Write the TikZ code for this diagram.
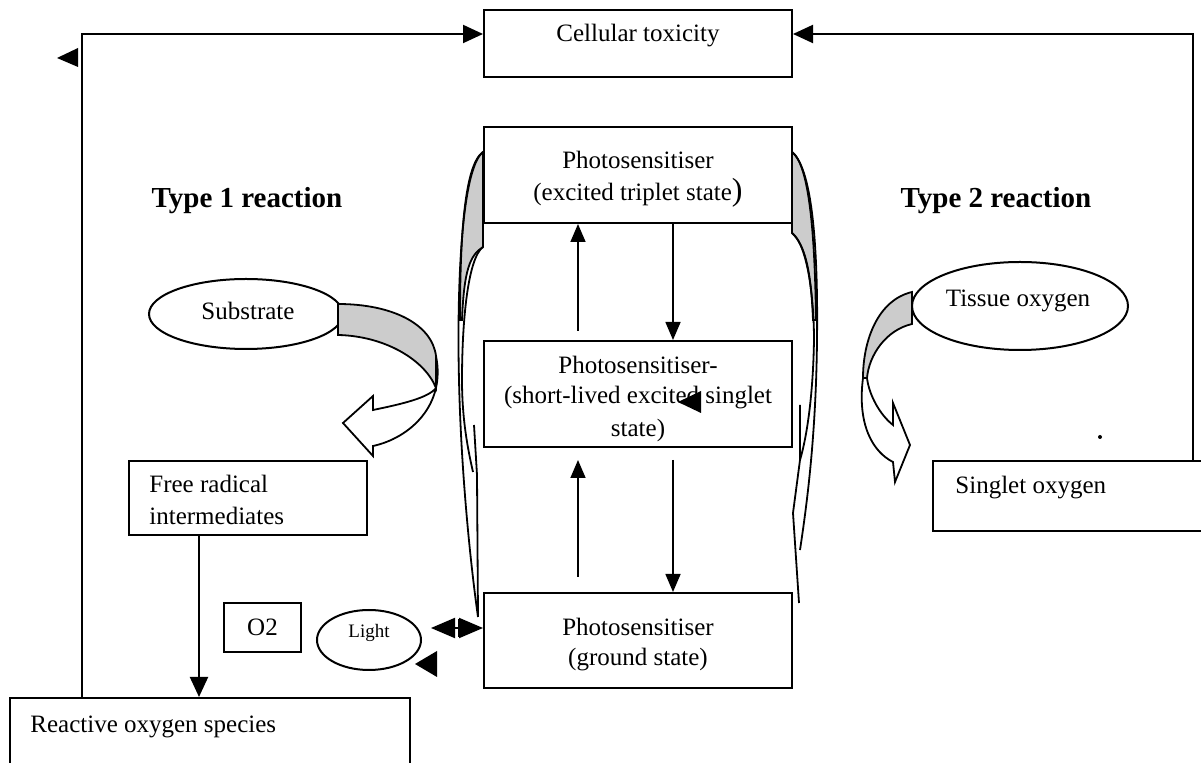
\documentclass[tikz,border=0pt]{standalone}
\usepackage{fontspec}
\setmainfont{Liberation Serif}
\usetikzlibrary{arrows.meta,shapes.geometric}
\begin{document}
\begin{tikzpicture}[x=0.5pt,y=-0.5pt,
  box/.style={draw, line width=1pt, inner sep=0pt, fill=white},
  oval/.style={draw, ellipse, line width=1pt, inner sep=0pt, fill=white},
  txt/.style={inner sep=0pt, font=\fontsize{12.5}{16}\selectfont},
  conn/.style={line width=1pt, -{Triangle[length=10pt,width=9pt]}},
  conns/.style={line width=0.8pt, -{Triangle[length=9pt,width=7.5pt]}},
  band/.style={draw, line width=0.9pt, fill=black!20},
  wband/.style={draw, line width=0.9pt, fill=white},
  thin/.style={draw, line width=0.9pt}]
\useasboundingbox (0,0) rectangle (1201,763);

% brackets around the central boxes
\path[band] (483,152) .. controls (464,165) and (460,240) .. (460,320) -- (462,320) .. controls (464,270) and (470,255) .. (483,247) -- cycle;
\draw[thin] (483,152) .. controls (460,170) and (457,300) .. (459,380) .. controls (461,470) and (470,560) .. (478,617);
\draw[thin] (483,247) .. controls (468,258) and (462,320) .. (462,380) .. controls (462,420) and (468,450) .. (473,472);
\draw[thin] (474,425) -- (477,475) -- (478,617);

\path[band] (792,152) .. controls (810,165) and (815,240) .. (816,320) -- (813,320) .. controls (811,270) and (805,245) .. (792,233) -- cycle;
\draw[thin] (792,152) .. controls (814,170) and (818,260) .. (817,340) .. controls (816,440) and (806,510) .. (800,550);
\draw[thin] (792,233) .. controls (808,245) and (814,300) .. (814,340) .. controls (813,400) and (806,440) .. (800,460);
\draw[thin] (800,405) -- (800,460) -- (793,513) -- (799,603);

% boxes
\node[box, minimum width=154pt, minimum height=33.5pt] (tox) at (638,43.5) {};
\node[txt] at (638,36) {Cellular toxicity};
\node[box, minimum width=154pt, minimum height=48pt] (trip) at (638,175) {};
\node[txt] at (638,160) {Photosensitiser};
\node[txt] at (638,193) {(excited triplet state\fontsize{16}{16}\selectfont)};
\node[box, minimum width=154pt, minimum height=53pt] (mid) at (638,394) {};
\node[txt] at (638,365) {Photosensitiser-};
\node[txt] at (638,398) {(short-lived excited singlet};
\node[txt] at (638,430) {state)};
\node[box, minimum width=154pt, minimum height=47.5pt] (gnd) at (638,640.5) {};
\node[txt] at (638,627) {Photosensitiser};
\node[txt] at (638,660) {(ground state)};

\node[box, minimum width=119pt, minimum height=37pt] (free) at (248,498) {};
\node[txt, align=left, anchor=west] at (149,500) {Free radical\\intermediates};
\node[box, minimum width=38.5pt, minimum height=24.5pt] (o2) at (262.5,627.5) {};
\node[txt] at (262.5,627) {O2};
\node[box, minimum width=200pt, minimum height=46pt] (ros) at (210,744) {};
\node[txt, anchor=west] at (30,727) {Reactive oxygen species};
\node[box, minimum width=148.5pt, minimum height=35pt] (sing) at (1081.5,496) {};
\node[txt, anchor=west] at (955,488) {Singlet oxygen};

% ellipses
\node[oval, minimum width=97pt, minimum height=35pt] (sub) at (246,314) {};
\node[txt] at (248,311) {Substrate};
\node[oval, minimum width=108pt, minimum height=44pt] (tis) at (1020,306) {};
\node[txt] at (1018,301) {Tissue oxygen};
\node[oval, minimum width=52pt, minimum height=30pt] (light) at (369,640) {};
\node[inner sep=0pt, font=\fontsize{9.5}{11}\selectfont] at (369,633) {Light};

% curved block arrows
\path[wband] (436,356) .. controls (446,405) and (410,438) .. (373,446) -- (373,456) -- (343,423) -- (373,396) -- (373,410) .. controls (402,404) and (428,398) .. (436,388) -- cycle;
\path[band] (338,304) .. controls (392,304) and (432,324) .. (436,356) -- (436,388) .. controls (425,360) and (385,336) .. (338,335) -- cycle;

\path[wband] (863,378) .. controls (857,425) and (873,452) .. (893,462) -- (895,482) -- (910,445) -- (893,403) -- (893,425) .. controls (880,415) and (869,395) .. (867,378) -- cycle;
\path[band] (912,292) .. controls (878,300) and (863,340) .. (863,378) -- (867,378) .. controls (869,355) and (886,330) .. (912,324) -- cycle;

% labels
\node[inner sep=0pt, font=\bfseries\fontsize{14.5}{16}\selectfont] at (247,201) {Type 1 reaction};
\node[inner sep=0pt, font=\bfseries\fontsize{14.5}{16}\selectfont] at (996,201) {Type 2 reaction};

% connectors
\coordinate (lc) at (82,34);
\coordinate (rc) at (1193,34);
\draw[conn] (ros.north -| lc) -- (lc) -- (tox.west |- lc);
\draw[conn] (sing.north -| rc) -- (rc) -- (tox.east |- rc);

\draw[conns] ([xshift=-30pt,yshift=4.5pt]mid.north) -- ([xshift=-30pt]trip.south);
\draw[conns] ([xshift=17.5pt]trip.south) -- ([xshift=17.5pt]mid.north);
\draw[conns] ([xshift=-30pt,yshift=7.5pt]gnd.north) -- ([xshift=-30pt,yshift=-6pt]mid.south);
\draw[conns] ([xshift=17.5pt,yshift=-6pt]mid.south) -- ([xshift=17.5pt]gnd.north);

\draw[conn] ([xshift=-24.5pt]free.south) -- ([xshift=-24.5pt]free.south |- ros.north);

\coordinate (la) at (431,628);
\draw[line width=1pt, {Triangle[length=12pt,width=10pt]}-{Triangle[length=12pt,width=10pt]}] (la) -- (gnd.west |- la);
\draw[line width=0.8pt] (459,619) -- (459,637);

% stray arrowheads and dot
\fill (57,58) -- (78,48) -- (78,67) -- cycle;
\fill (678,402) -- (701,391) -- (701,413) -- cycle;
\fill (415,664) -- (437,651) -- (437,677) -- cycle;
\fill (1100,437) circle (1pt);
\end{tikzpicture}
\end{document}
